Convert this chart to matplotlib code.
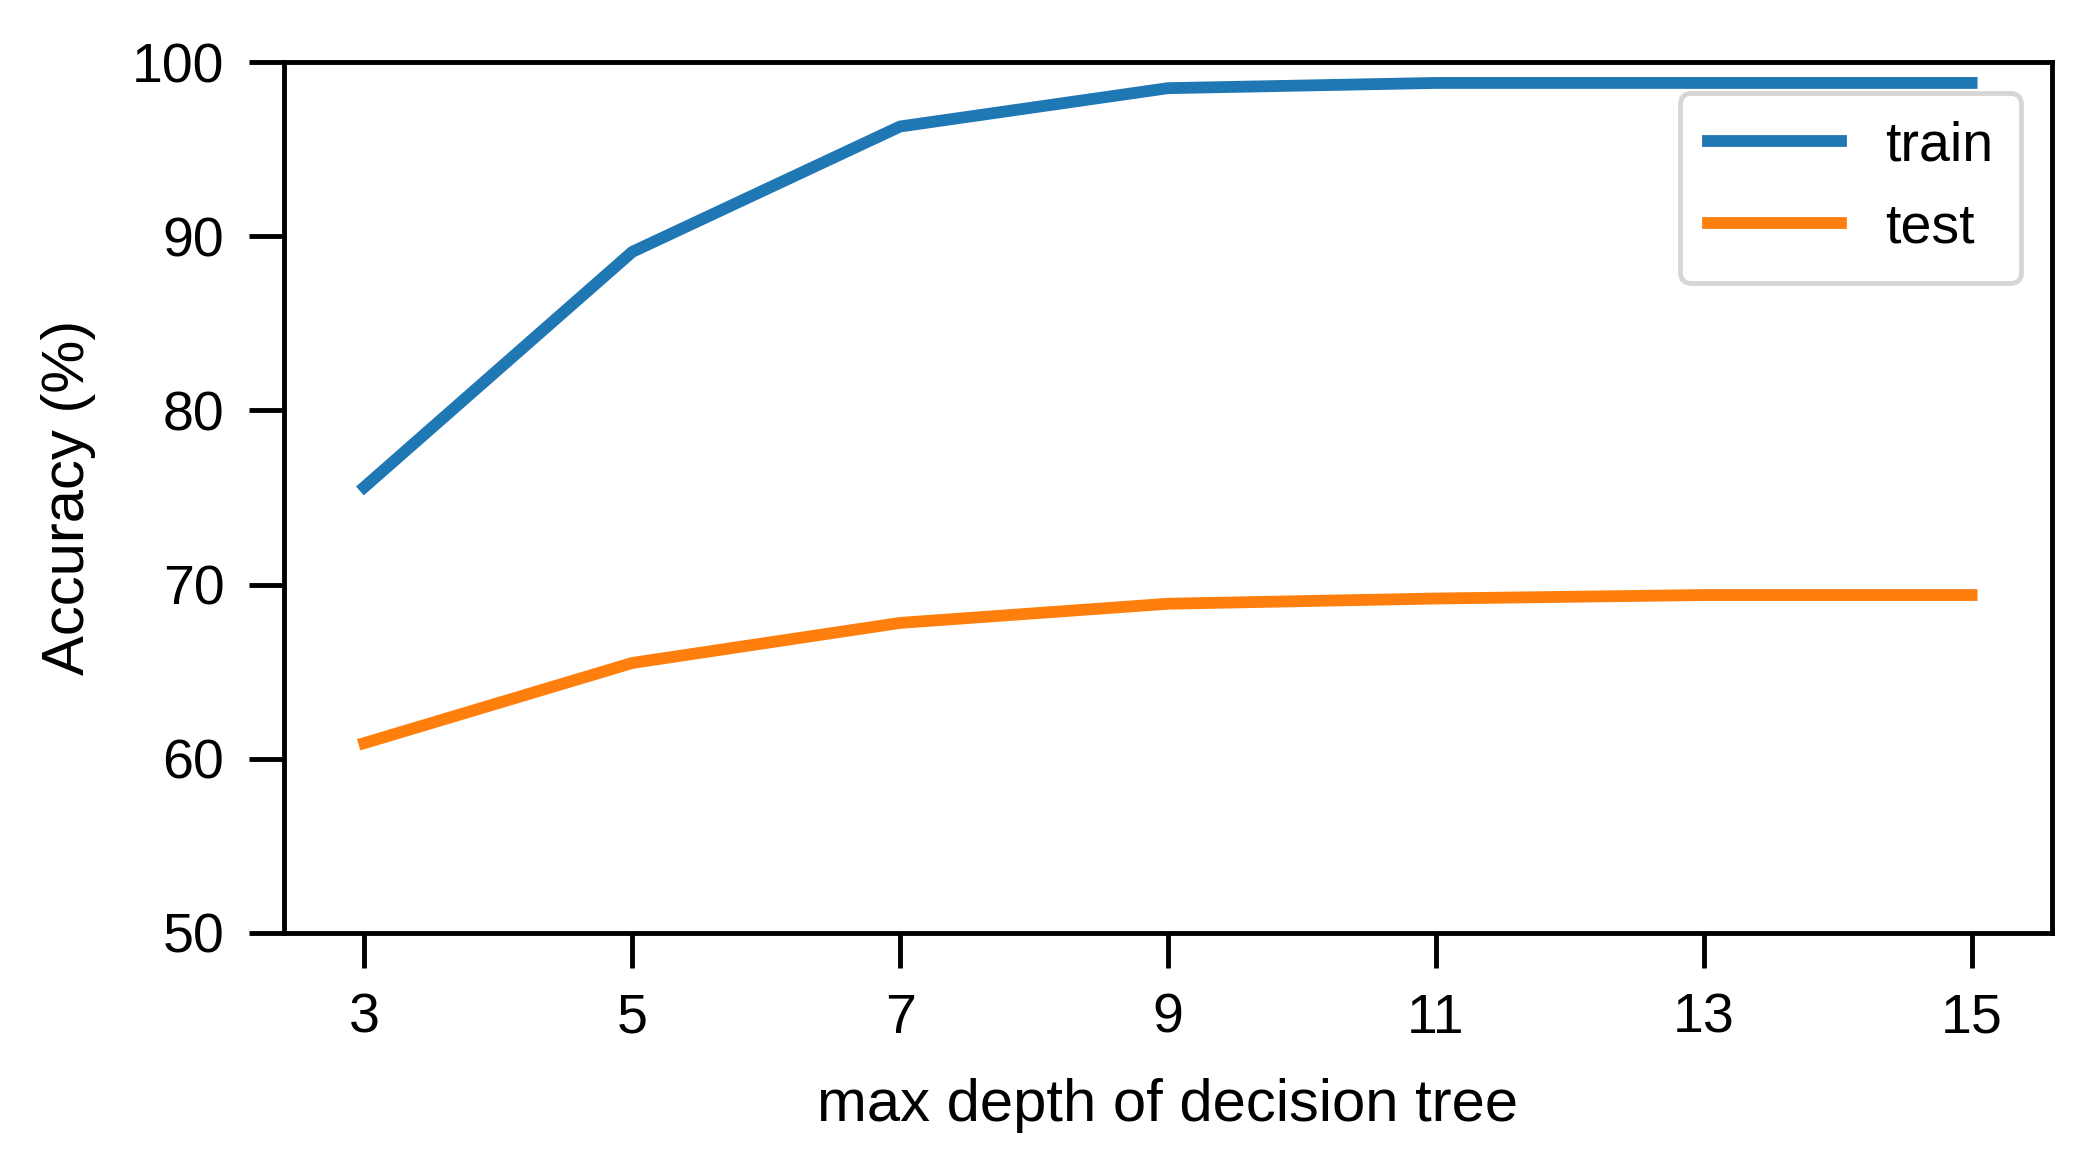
import matplotlib
matplotlib.use("Agg")
import matplotlib.pyplot as plt

# max depth values and accuracies (%)
depths = [3, 5, 7, 9, 11, 13, 15]
train_acc = [75.6, 89.1, 96.3, 98.5, 98.8, 98.8, 98.8]
test_acc = [60.9, 65.5, 67.8, 68.9, 69.2, 69.4, 69.4]

plt.rcParams['font.family'] = ['Liberation Sans', 'DejaVu Sans']

fig = plt.figure(figsize=(20.99, 11.64), dpi=100)
ax = fig.add_axes([0.1353, 0.1985, 0.8423, 0.7482])

ax.plot(depths, train_acc, color='#1f77b4', lw=8.5, label='train')
ax.plot(depths, test_acc, color='#ff7f0e', lw=8.5, label='test')

ax.set_ylim(50, 100)
ax.set_xticks(depths)
ax.set_yticks([50, 60, 70, 80, 90, 100])

for s in ax.spines.values():
    s.set_linewidth(3.5)
ax.tick_params(axis='both', labelsize=40, length=25, width=3.5, pad=18)

ax.set_xlabel('max depth of decision tree', fontsize=43, labelpad=24)
ax.set_ylabel('Accuracy (%)', fontsize=43, labelpad=26)

leg = ax.legend(loc='upper right', fontsize=40, handlelength=2.4,
                labelspacing=0.55, borderaxespad=0.55, framealpha=0.8,
                borderpad=0.5)
leg.get_frame().set_linewidth(3.5)

fig.savefig('out.png', dpi=100)
